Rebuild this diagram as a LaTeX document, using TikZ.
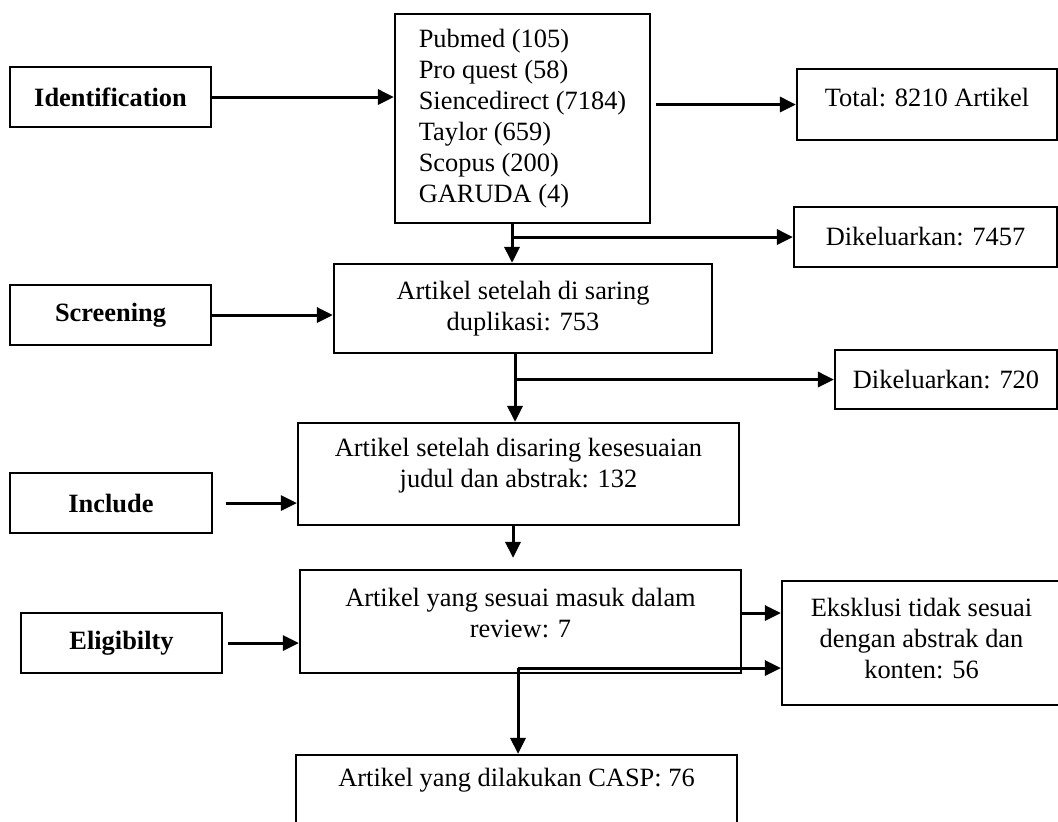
\documentclass[tikz,border=0pt]{standalone}
\usepackage{fontspec}
\setmainfont{Liberation Serif}
\usetikzlibrary{arrows.meta}
\tikzset{
	box/.style={draw, line width=1.1pt, inner sep=0pt, align=center, font=\fontsize{13.2}{15.5}\selectfont},
	stage/.style={box, minimum width=100.5pt, minimum height=30pt, font=\fontsize{13.2}{15.5}\selectfont\bfseries},
	arr/.style={line width=1.5pt, -{Triangle[length=8pt, width=7.5pt]}}
}

\begin{document}
\begin{tikzpicture}[x=0.5pt, y=-0.5pt]
		\useasboundingbox (0,0) rectangle (1058,821);

		\node[stage] (ident) at (110.5, 97) {Identification};
		\node[stage] (screen) at (110.5, 315) {Screening};
		\node[stage, minimum width=101pt] (incl) at (111, 503) {Include};
		\node[stage] (elig) at (121.5, 643) {Eligibilty};

		\node[box, align=left, minimum width=127.5pt, minimum height=104.5pt] (src) at (522.5, 118.5)
			{Pubmed (105)\\Pro quest (58)\\Siencedirect (7184)\\Taylor (659)\\Scopus (200)\\GARUDA (4)};
		\node[box, minimum width=130pt, minimum height=35.5pt, text depth=7.5pt] (total) at (927, 104.5) {Total: 8210 Artikel};
		\node[box, minimum width=131.5pt, minimum height=30pt] (dik1) at (925.5, 237) {Dikeluarkan: 7457};
		\node[box, minimum width=189pt, minimum height=44.5pt] (dup) at (523, 308.5) {Artikel setelah di saring\\duplikasi: 753};
		\node[box, minimum width=111pt, minimum height=29.5pt] (dik2) at (946, 379.5) {Dikeluarkan: 720};
		\node[box, minimum width=220.5pt, minimum height=51pt, text depth=11pt] (kes) at (518.5, 474)
			{Artikel setelah disaring kesesuaian\\judul dan abstrak: 132};
		\node[box, minimum width=220.5pt, minimum height=51.5pt, text depth=9pt] (rev) at (520.5, 621.5)
			{Artikel yang sesuai masuk dalam\\review: 7};
		\node[box, minimum width=139.5pt, minimum height=62pt, text depth=5pt] (eks) at (921.5, 643)
			{Eksklusi tidak sesuai\\dengan abstrak dan\\konten: 56};
		\node[box, minimum width=220.5pt, minimum height=50pt, text depth=28pt] (casp) at (516.5, 805)
			{Artikel yang dilakukan CASP: 76};

		\coordinate (jn) at (518, 668);

		\draw[arr] (ident.east) -- (ident.east -| src.west);
		\draw[arr] (screen.east) -- (screen.east -| dup.west);
		\draw[arr, shorten <=6.5pt] (incl.east) -- (incl.east -| kes.west);
		\draw[arr, shorten <=2.5pt] (elig.east) -- (elig.east -| rev.west);

		\draw[arr, shorten <=2.5pt] (src.east |- total.west) -- (total.west);
		\draw[arr] ([xshift=-5.25pt]src.south) -- ([xshift=-5.25pt]src.south |- dup.north);
		\draw[arr] ([xshift=-5.25pt]src.south |- dik1.west) -- (dik1.west);

		\draw[arr] ([xshift=-4pt]dup.south) -- ([xshift=-4pt]dup.south |- kes.north);
		\draw[arr] ([xshift=-4pt]dup.south |- dik2.west) -- (dik2.west);

		\draw[arr, shorten >=5.5pt] ([xshift=-2.75pt]kes.south) -- ([xshift=-2.75pt]kes.south |- rev.north);

		\draw[arr] ([yshift=15pt]eks.west -| rev.east) -- ([yshift=15pt]eks.west);
		\draw[arr] (jn) -- (jn -| eks.west);
		\draw[arr] (jn) -- (jn |- casp.north);
	\end{tikzpicture}
\end{document}
